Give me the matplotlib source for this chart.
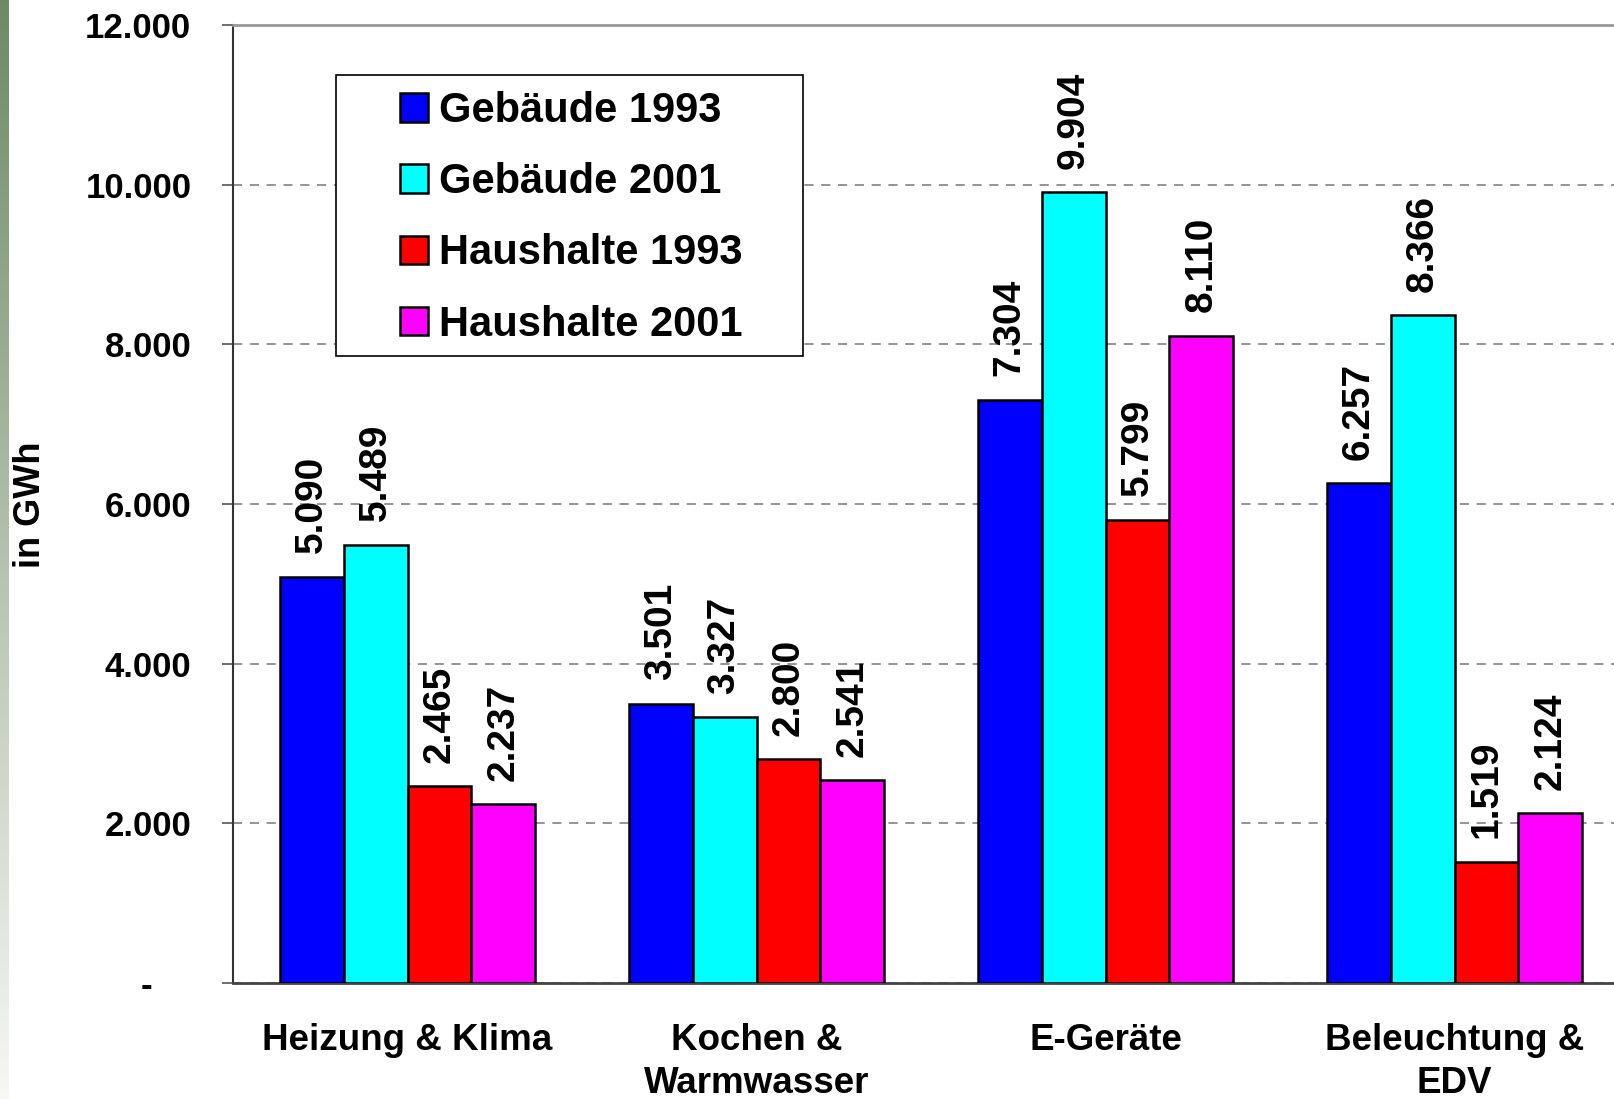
import numpy as np
import matplotlib
matplotlib.use("Agg")
import matplotlib.pyplot as plt
from matplotlib.patches import Rectangle

plt.rcParams['font.family'] = ['Liberation Sans', 'DejaVu Sans']
plt.rcParams['font.weight'] = 'bold'

categories = ["Heizung & Klima", "Kochen &\nWarmwasser", "E-Geräte", "Beleuchtung &\nEDV"]
series_names = ["Gebäude 1993", "Gebäude 2001", "Haushalte 1993", "Haushalte 2001"]
gebaeude_1993 = [5090, 3501, 7304, 6257]
gebaeude_2001 = [5489, 3327, 9904, 8366]
haushalte_1993 = [2465, 2800, 5799, 1519]
haushalte_2001 = [2237, 2541, 8110, 2124]
colors = ["#0000ff", "#00ffff", "#ff0000", "#ff00ff"]
yticks = [0, 2000, 4000, 6000, 8000, 10000, 12000]
ytick_labels = ["-    ", "2.000", "4.000", "6.000", "8.000", "10.000", "12.000"]


def fmt(v):
    return f"{v:,}".replace(",", ".")


def main():
    W, H = 1614, 1099
    fig = plt.figure(figsize=(W / 100, H / 100), dpi=100)

    # green strip on the left edge
    strip = fig.add_axes([0, 0, 9 / W, 1])
    top = np.array([0.43, 0.54, 0.40])
    bot = np.array([0.97, 0.97, 0.96])
    t = np.linspace(0, 1, 200)[:, None]
    grad = (top * (1 - t) + bot * t)[:, None, :]
    strip.imshow(grad, aspect='auto', extent=[0, 1, 0, 1])
    strip.axis('off')

    ax_left = 233 / W
    ax_bottom = (H - 983) / H
    ax_top = (H - 25) / H
    ax = fig.add_axes([ax_left, ax_bottom, 1 - ax_left, ax_top - ax_bottom])

    data = [gebaeude_1993, gebaeude_2001, haushalte_1993, haushalte_2001]
    x = np.arange(len(categories))
    bw = 0.183
    handles = []
    for i, (vals, name, col) in enumerate(zip(data, series_names, colors)):
        bars = ax.bar(x + (i - 1.5) * bw, vals, bw, color=col, edgecolor='black',
                      linewidth=1.8, label=name, zorder=3)
        handles.append(bars)
        for b, v in zip(bars, vals):
            ax.annotate(fmt(v), (b.get_x() + b.get_width() / 2, v), xytext=(0, 17),
                        textcoords='offset points', rotation=90, ha='center', va='bottom',
                        fontsize=28, fontweight='bold')

    ax.set_xlim(-0.5, 3.457)
    ax.set_ylim(0, 12000)
    ax.set_yticks(yticks)
    ax.set_yticklabels(ytick_labels, fontsize=25, fontweight='bold')
    ax.set_xticks(x)
    ax.set_xticklabels(categories, fontsize=26.5, fontweight='bold', linespacing=1.28)
    ax.tick_params(axis='x', length=0, pad=29)
    ax.tick_params(axis='y', direction='out', length=8, width=1.2, color='#555555', pad=22)
    ax.set_axisbelow(True)
    ax.yaxis.grid(True, linestyle=(0, (6, 5)), color='#777777', linewidth=1.1)

    ax.spines['right'].set_visible(False)
    ax.spines['top'].set_color('#999999')
    ax.spines['top'].set_linewidth(2)
    ax.spines['left'].set_color('#333333')
    ax.spines['left'].set_linewidth(1.5)
    ax.spines['bottom'].set_color('#444444')
    ax.spines['bottom'].set_linewidth(2)

    fig.text(30 / W, 1 - 505 / H, "in GWh", rotation=90, ha='center', va='center',
             fontsize=26, fontweight='bold')

    # legend box
    bx0, by0, bx1, by1 = 336, 75, 803, 356
    ax.add_patch(Rectangle((bx0 / W, 1 - by1 / H), (bx1 - bx0) / W, (by1 - by0) / H,
                           transform=fig.transFigure, facecolor='white', clip_on=False,
                           edgecolor='black', linewidth=1.2, zorder=4))
    leg = ax.legend(handles=handles, loc='upper left',
                    bbox_to_anchor=(400 / W, 1 - 91 / H), bbox_transform=fig.transFigure,
                    frameon=False, fontsize=30, handlelength=0.68, handleheight=0.68,
                    handletextpad=0.25, labelspacing=0.75, borderpad=0, borderaxespad=0)
    leg.set_zorder(6)
    for txt in leg.get_texts():
        txt.set_fontweight('bold')

    fig.savefig("out.png", dpi=100)


if __name__ == "__main__":
    main()
